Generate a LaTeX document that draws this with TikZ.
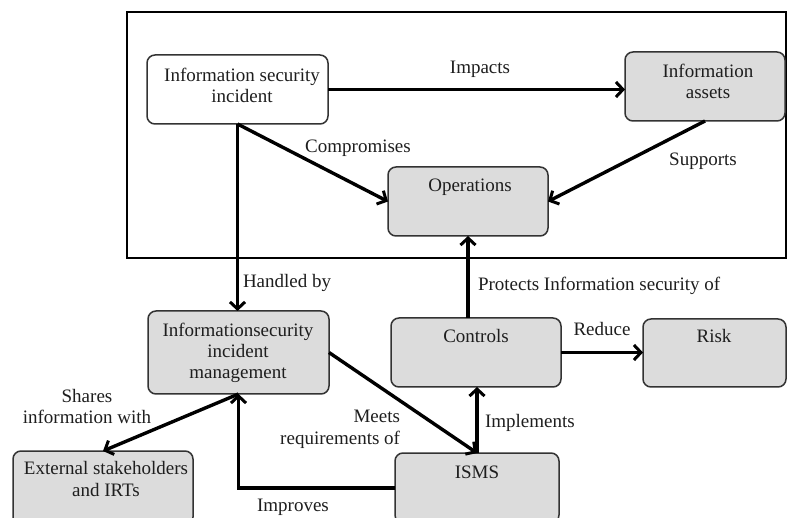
\documentclass[tikz,border=0pt]{standalone}
\usepackage{fontspec}
\setmainfont{Liberation Serif}
\usetikzlibrary{arrows.meta}
\definecolor{boxfill}{HTML}{DCDCDC}
\definecolor{boxline}{HTML}{333333}
\definecolor{txt}{HTML}{1E1E1E}
\tikzset{
  box/.style={draw=boxline, fill=boxfill, rounded corners=8pt, line width=1.5pt, inner sep=0pt, outer sep=0pt},
  whitebox/.style={box, fill=white},
  frame/.style={draw=black, line width=1.2pt, inner sep=0pt, outer sep=0pt},
  tx/.style={text=txt, inner sep=0pt, outer sep=0pt, align=center, anchor=base,
    font=\fontsize{19pt}{21.5pt}\selectfont},
  arr/.style={line width=3.4pt, draw=black, -{Straight Barb[length=7pt,width=15pt,line width=3pt]}},
}
\begin{document}
\begin{tikzpicture}[x=1pt,y=-1pt]
\clip (0,0) rectangle (787,518);
\fill[white] (0,0) rectangle (787,518);
% frame
\node[frame, minimum width=659pt, minimum height=246pt] (frm) at (456.5,135) {};
% boxes
\node[whitebox, minimum width=181pt, minimum height=69pt] (isi) at (237.5,89.5) {};
\node[box, minimum width=160pt, minimum height=69pt] (ia) at (705,86.5) {};
\node[box, minimum width=160pt, minimum height=69pt] (ops) at (468,201.5) {};
\node[box, minimum width=181pt, minimum height=83pt] (isim) at (238.5,352.5) {};
\node[box, minimum width=180pt, minimum height=74pt] (ext) at (103,488) {};
\node[box, minimum width=170pt, minimum height=69pt] (ctrl) at (476,352.5) {};
\node[box, minimum width=143pt, minimum height=68pt] (risk) at (714.5,353) {};
\node[box, minimum width=164pt, minimum height=70pt] (isms) at (477,488) {};
% box texts (multi-line nodes: base = baseline of last line)
\node[tx] (isiT) at (242,103) {Information security\\incident};
\node[tx] (iaT) at (708,99) {Information\\assets};
\node[tx] (opsT) at (470,192) {Operations};
\node[tx] (isimT) at (238,379) {Informationsecurity\\incident\\management};
\node[tx] (extT) at (106,496) {External stakeholders\\and IRTs};
\node[tx] (ctrlT) at (476,343) {Controls};
\node[tx] (riskT) at (714,343) {Risk};
\node[tx] (ismsT) at (477,478) {ISMS};
% connectors
\draw[arr] (isi.east) -- (isi.east -| ia.west);
\draw[arr] (isi.south) -- (ops.west);
\draw[arr] (ia.south) -- (ops.east);
\draw[arr] (isi.south) -- (isi.south |- isim.north);
\draw[arr] (ops.south |- ctrl.north) -- (ops.south);
\draw[arr] (ctrl.east) -- (ctrl.east -| risk.west);
\draw[arr] (isim.east) -- (isms.north);
\draw[arr] (isms.north) -- (isms.north |- ctrl.south);
\draw[arr] (isms.west) -| (isim.south);
\draw[arr] (isim.south) -- (ext.north);
% connector labels
\node[tx] (lImp) at (480,74) {Impacts};
\node[tx] (lComp) at (358,153) {Compromises};
\node[tx] (lSup) at (703,166) {Supports};
\node[tx, anchor=base west] (lHand) at (243,288) {Handled by};
\node[tx, anchor=base west] (lProt) at (478,291) {Protects Information security of};
\node[tx] (lRed) at (602,336) {Reduce};
\node[tx, align=right, anchor=base east] (lMeet) at (400,444) {Meets\\requirements of};
\node[tx, anchor=base west] (lImpl) at (485,428) {Implements};
\node[tx] (lImpr) at (293,511) {Improves};
\node[tx] (lShare) at (87,424) {Shares\\information with};
\end{tikzpicture}
\end{document}
